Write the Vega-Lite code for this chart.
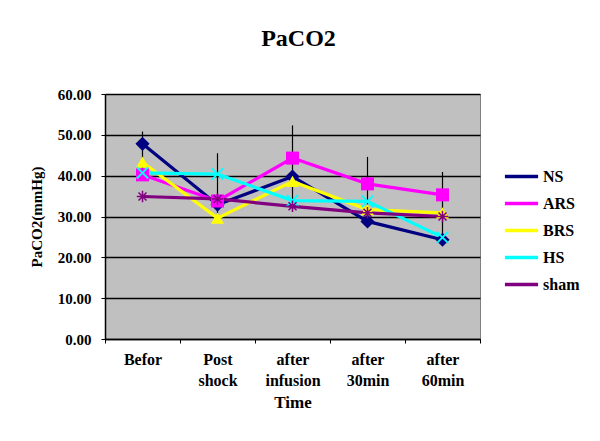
{
  "$schema": "https://vega.github.io/schema/vega-lite/v6.json",
  "width": 375,
  "height": 245,
  "autosize": "none",
  "padding": {"left": 105, "top": 94, "right": 120, "bottom": 102},
  "background": "white",
  "title": {"text": "PaCO2", "font": "Liberation Serif", "fontSize": 24, "fontWeight": "bold", "color": "black", "offset": 36, "dx": 6},
  "config": {
    "view": {"fill": "#c0c0c0", "stroke": "#808080", "strokeWidth": 1},
    "axis": {"labelFont": "Liberation Serif", "titleFont": "Liberation Serif", "labelFontWeight": "bold", "titleFontWeight": "bold", "labelColor": "black", "titleColor": "black", "domainColor": "black", "tickColor": "black"}
  },
  "datasets": {
    "series": [
      {"group": "NS", "time": "Befor", "value": 47.8},
      {"group": "NS", "time": "Post shock", "value": 32.9},
      {"group": "NS", "time": "after infusion", "value": 39.8},
      {"group": "NS", "time": "after 30min", "value": 28.8},
      {"group": "NS", "time": "after 60min", "value": 24.3},
      {"group": "ARS", "time": "Befor", "value": 40.2},
      {"group": "ARS", "time": "Post shock", "value": 33.8},
      {"group": "ARS", "time": "after infusion", "value": 44.3},
      {"group": "ARS", "time": "after 30min", "value": 38.0},
      {"group": "ARS", "time": "after 60min", "value": 35.3},
      {"group": "BRS", "time": "Befor", "value": 43.3},
      {"group": "BRS", "time": "Post shock", "value": 29.6},
      {"group": "BRS", "time": "after infusion", "value": 38.6},
      {"group": "BRS", "time": "after 30min", "value": 31.7},
      {"group": "BRS", "time": "after 60min", "value": 30.9},
      {"group": "HS", "time": "Befor", "value": 40.7},
      {"group": "HS", "time": "Post shock", "value": 40.4},
      {"group": "HS", "time": "after infusion", "value": 33.9},
      {"group": "HS", "time": "after 30min", "value": 33.7},
      {"group": "HS", "time": "after 60min", "value": 24.9},
      {"group": "sham", "time": "Befor", "value": 34.9},
      {"group": "sham", "time": "Post shock", "value": 34.3},
      {"group": "sham", "time": "after infusion", "value": 32.5},
      {"group": "sham", "time": "after 30min", "value": 30.9},
      {"group": "sham", "time": "after 60min", "value": 30.0}
    ],
    "err": [
      {"time": "Befor", "low": 40.0, "high": 50.8},
      {"time": "Post shock", "low": 30.0, "high": 45.5},
      {"time": "after infusion", "low": 34.0, "high": 52.3},
      {"time": "after 30min", "low": 31.0, "high": 44.6},
      {"time": "after 60min", "low": 23.0, "high": 40.9}
    ]
  },
  "encoding": {
    "x": {
      "field": "time", "type": "nominal",
      "sort": ["Befor", "Post shock", "after infusion", "after 30min", "after 60min"],
      "scale": {"paddingInner": 0, "paddingOuter": 0},
      "axis": {"title": "Time", "titleFontSize": 17, "titlePadding": 6, "labelAngle": 0, "labelExpr": "split(datum.label, ' ')", "labelLineHeight": 21, "labelFontSize": 16, "labelPadding": 8, "tickBand": "extent", "tickSize": 4, "domainWidth": 1.5}
    },
    "y": {"field": "value", "type": "quantitative", "scale": {"domain": [0, 60], "nice": false},
      "axis": {"title": "PaCO2(mmHg)", "titleFontSize": 15, "titlePadding": 13, "values": [0, 10, 20, 30, 40, 50, 60], "format": ".2f", "labelFontSize": 15, "labelPadding": 10, "tickSize": 4, "grid": true, "gridColor": "black", "gridWidth": 1.5, "gridOpacity": 1, "domainWidth": 1.5}}
  },
  "layer": [
    {
      "data": {"name": "err"},
      "mark": {"type": "rule", "color": "black", "strokeWidth": 1.2},
      "encoding": {
        "y": {"field": "low", "type": "quantitative", "scale": {"domain": [0, 60], "nice": false},
          "axis": {"title": "PaCO2(mmHg)", "titleFontSize": 15, "titlePadding": 13, "values": [0, 10, 20, 30, 40, 50, 60], "format": ".2f", "labelFontSize": 15, "labelPadding": 10, "tickSize": 4, "grid": true, "gridColor": "black", "gridWidth": 1.5, "gridOpacity": 1, "domainWidth": 1.5}},
        "y2": {"field": "high"}
      }
    },
    {
      "data": {"name": "series"},
      "mark": {"type": "line", "strokeWidth": 3.2},
      "encoding": {
        "color": {
          "field": "group", "type": "nominal",
          "scale": {"domain": ["NS", "ARS", "BRS", "HS", "sham"], "range": ["#000080", "#ff00ff", "#ffff00", "#00ffff", "#800080"]},
          "legend": {"title": null, "orient": "none", "legendX": 398, "legendY": 64, "symbolType": "stroke", "symbolSize": 1100, "symbolStrokeWidth": 3.5, "labelFont": "Liberation Serif", "labelFontWeight": "bold", "labelFontSize": 16, "labelColor": "black", "rowPadding": -14, "labelOffset": 3}
        }
      }
    },
    {
      "data": {"name": "series"},
      "transform": [{"filter": "datum.group === 'NS'"}],
      "mark": {"type": "point", "shape": "diamond", "filled": true, "opacity": 1, "size": 200, "color": "#000080"}
    },
    {
      "data": {"name": "series"},
      "transform": [{"filter": "datum.group === 'ARS'"}],
      "mark": {"type": "point", "shape": "square", "filled": true, "opacity": 1, "size": 170, "color": "#ff00ff"}
    },
    {
      "data": {"name": "series"},
      "transform": [{"filter": "datum.group === 'BRS'"}],
      "mark": {"type": "point", "shape": "triangle-up", "filled": true, "opacity": 1, "size": 170, "color": "#ffff00"}
    },
    {
      "data": {"name": "series"},
      "transform": [{"filter": "datum.group === 'HS'"}],
      "mark": {"type": "point", "shape": "M-1,-1L1,1M-1,1L1,-1", "filled": false, "opacity": 1, "size": 130, "strokeWidth": 1.8, "color": "#00ffff"}
    },
    {
      "data": {"name": "series"},
      "transform": [{"filter": "datum.group === 'sham'"}],
      "mark": {"type": "point", "shape": "M-1,0L1,0M0,-1L0,1M-0.7,-0.7L0.7,0.7M-0.7,0.7L0.7,-0.7", "filled": false, "opacity": 1, "size": 130, "strokeWidth": 1.5, "color": "#800080"}
    }
  ]
}
